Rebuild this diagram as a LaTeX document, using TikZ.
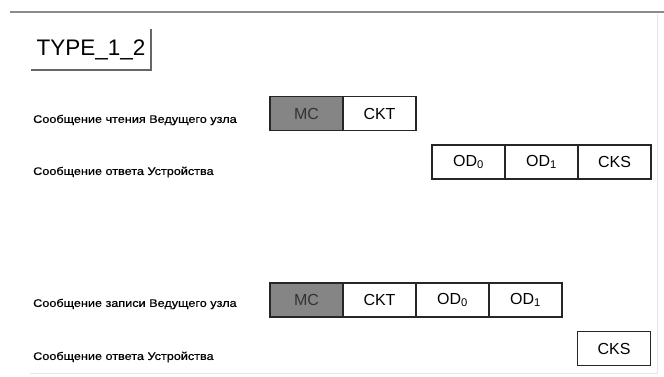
\documentclass[tikz,border=0pt]{standalone}
\usepackage{fontspec}
\setmainfont{Liberation Sans}
\newfontfamily\msgfont[FakeStretch=1.15, FakeBold=0.6]{Liberation Sans}
\usetikzlibrary{positioning}

\tikzset{
  field/.style={draw=black!85, line width=1.1pt, minimum width=73pt,
    minimum height=34pt, inner sep=0pt, outer sep=0pt,
    font=\fontsize{16}{16}\selectfont},
  mcfield/.style={field, fill=black!48, text=black!80},
  msglabel/.style={anchor=west, inner sep=0pt,
    font=\msgfont\fontsize{11}{11}\selectfont},
}

\begin{document}
\begin{tikzpicture}[x=1pt, y=-1pt]
  \useasboundingbox (0,0) rectangle (664,376);

  % frame
  \draw[black!45, line width=1.6pt] (10,12) -- (664,12);
  \draw[black!10, line width=0.8pt] (30,373) -- (657,373) -- (657,14);

  % title
  \node[font=\fontsize{22.5}{22.5}\selectfont, minimum width=120pt,
    minimum height=40pt, inner sep=0pt] (type) at (91,49.5) {TYPE\_1\_2};
  \draw[black!60, line width=2pt] (type.north east) -- (type.south east) -- (type.south west);

  % read request and answer
  \node[msglabel] (rdlab) at (33,120) {Сообщение чтения Ведущего узла};
  \node[mcfield] (rdmc) at (306.5,113.5) {MC};
  \node[field, right=0pt of rdmc] (rdckt) {CKT};

  \node[msglabel] (rdanslab) at (33,172) {Сообщение ответа Устройства};
  \node[field] (rdod0) at (468.5,162) {OD\textsubscript{0}};
  \node[field, right=0pt of rdod0] (rdod1) {OD\textsubscript{1}};
  \node[field, right=0pt of rdod1] (rdcks) {CKS};

  % write request and answer
  \node[msglabel] (wrlab) at (33,304) {Сообщение записи Ведущего узла};
  \node[mcfield] (wrmc) at (306.5,300) {MC};
  \node[field, right=0pt of wrmc] (wrckt) {CKT};
  \node[field, right=0pt of wrckt] (wrod0) {OD\textsubscript{0}};
  \node[field, right=0pt of wrod0] (wrod1) {OD\textsubscript{1}};

  \node[msglabel] (wranslab) at (33,357) {Сообщение ответа Устройства};
  \node[field] (wrcks) at (614,348.5) {CKS};
\end{tikzpicture}
\end{document}
